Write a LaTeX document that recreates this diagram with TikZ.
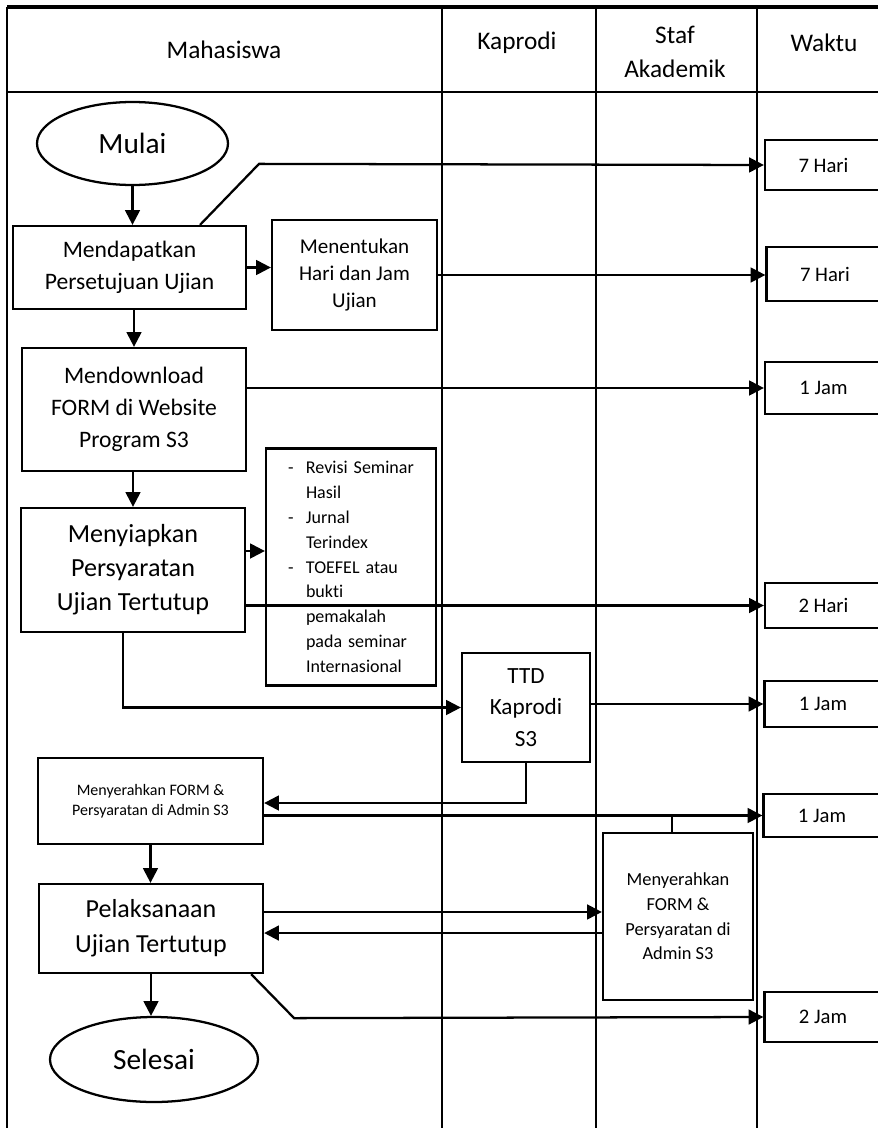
\documentclass[tikz,border=0pt]{standalone}
\usepackage{fontspec}
\setmainfont{Carlito}[Ligatures=NoCommon]
\usetikzlibrary{shapes.geometric, arrows.meta}

\newcommand{\fs}[2]{\fontsize{#1}{#2}\selectfont}
\newcommand{\lsdash}{\makebox[13.5pt][l]{-}}
\newcommand{\lsgap}{\hspace*{13.5pt}}

\begin{document}
\begin{tikzpicture}[
			x=0.75pt, y=-0.75pt,
			every node/.style={align=center, inner sep=0pt},
			block/.style={rectangle, draw, line width=1.7pt},
			terminal/.style={ellipse, draw, line width=1.7pt, font=\fs{22pt}{26pt}},
			waktu/.style={rectangle, draw, line width=1.7pt, minimum width=87.75pt, font=\fs{15.5pt}{19pt}},
			head/.style={font=\fs{19pt}{25.5pt}},
			line/.style={-{Triangle[length=11pt, width=11pt]}, line width=1.7pt},
			link/.style={line width=1.7pt}
			]
			
			\useasboundingbox (0,0) rectangle (878,1128);
			
			% swimlanes
			\draw[line width=2.4pt] (7,7) -- (895,7);
			\draw[link] (7,7) -- (7,1140);
			\draw[link] (7,92) -- (895,92);
			\foreach \x in {442,596,757}
				\draw[link] (\x,7) -- (\x,1140);
			
			\node[head] (hmhs) at (224,50) {Mahasiswa};
			\node[head] (hkap) at (517,43) {Kaprodi};
			\node[head] (hstaf) at (675,52) {Staf\\Akademik};
			\node[head] (hwkt) at (824,43) {Waktu};
			
			% mahasiswa
			\node[terminal, minimum width=143.25pt, minimum height=62.25pt] (mulai) at (132.5,143.5) {Mulai};
			\node[block, minimum width=174.75pt, minimum height=62.25pt, font=\fs{17.7pt}{24pt}] (setuju) at (129.5,267.5) {Mendapatkan\\Persetujuan Ujian};
			\node[block, minimum width=123.75pt, minimum height=82.5pt, font=\fs{15.8pt}{20.6pt}] (tentukan) at (354.5,275) {Menentukan\\Hari dan Jam\\Ujian};
			\node[block, minimum width=168pt, minimum height=92.25pt, font=\fs{17.7pt}{24pt}] (unduh) at (134,409.5) {Mendownload\\FORM di Website\\Program S3};
			\node[block, minimum width=168pt, minimum height=93pt, font=\fs{19.6pt}{25.5pt}] (siapkan) at (133,570) {Menyiapkan\\Persyaratan\\Ujian Tertutup};
			\node[block, minimum width=127.5pt, minimum height=177.75pt, text width=94.5pt, inner xsep=16.5pt, align=left, font=\fs{13.5pt}{18.6pt}] (syarat) at (351,567) {%
				\lsdash Revisi Seminar\\
				\lsgap Hasil\\
				\lsdash Jurnal\\
				\lsgap Terindex\\
				\lsdash \makebox[80pt][s]{TOEFEL atau}\\
				\lsgap bukti\\
				\lsgap pemakalah\\
				\lsgap \makebox[80pt][s]{pada seminar}\\
				\lsgap Internasional};
			\node[block, minimum width=168.75pt, minimum height=64.5pt, font=\fs{12pt}{15pt}] (serah) at (150.5,801) {Menyerahkan FORM \&\\Persyaratan di Admin S3};
			\node[block, minimum width=168pt, minimum height=66.75pt, font=\fs{19.5pt}{26pt}] (laksana) at (151,928.5) {Pelaksanaan\\Ujian Tertutup};
			\node[terminal, minimum width=156pt, minimum height=63.75pt] (selesai) at (154,1059.5) {Selesai};
			
			% kaprodi dan staf
			\node[block, minimum width=96pt, minimum height=81.75pt, font=\fs{17.4pt}{23.8pt}] (ttd) at (526,707.5) {TTD\\Kaprodi\\S3};
			\node[block, minimum width=112.5pt, minimum height=125.25pt, font=\fs{13.8pt}{18.5pt}] (admin) at (678,916.5) {Menyerahkan\\FORM \&\\Persyaratan di\\Admin S3};
			
			% waktu
			\node[waktu, minimum height=37.5pt] (w1) at (823.5,165) {7 Hari};
			\node[waktu, minimum height=40.5pt] (w2) at (825,274) {7 Hari};
			\node[waktu, minimum height=39pt] (w3) at (823.5,388) {1 Jam};
			\node[waktu, minimum height=33.75pt] (w4) at (823.5,605.5) {2 Hari};
			\node[waktu, minimum height=34.5pt] (w5) at (823,704) {1 Jam};
			\node[waktu, minimum height=32.25pt] (w6) at (822,815.5) {1 Jam};
			\node[waktu, minimum height=37.5pt] (w7) at (823,1017) {2 Jam};
			
			% alur
			\draw[line] (mulai) -- (mulai |- setuju.north);
			\draw[line] ([xshift=52.9pt]setuju.north) -- ++(59,-61) -- (w1.west);
			\draw[line] (setuju.east) -- (setuju.east -| tentukan.west);
			\draw[line] (tentukan.east) -- (tentukan.east -| w2.west);
			\draw[line] (unduh.north |- setuju.south) -- (unduh.north);
			\draw[line] (unduh.east |- w3.west) -- (w3.west);
			\draw[line] (siapkan.north |- unduh.south) -- (siapkan.north);
			\draw[line] ([yshift=14.25pt]siapkan.east) -- ([yshift=14.25pt]siapkan.east -| syarat.west);
			\draw[line] (siapkan.east |- w4.west) -- (w4.west);
			\draw[line] ([xshift=-7.5pt]siapkan.south) |- (ttd.west);
			\draw[line] (ttd.east |- w5.west) -- (w5.west);
			\draw[line] (ttd.south) |- ([yshift=-1.5pt]serah.east);
			\draw[line] (serah.east |- w6.west) -- (w6.west);
			\draw[link] ([xshift=-4.5pt]admin.north) -- ([xshift=-4.5pt]admin.north |- w6.west);
			\draw[line] (serah.south) -- (serah.south |- laksana.north);
			\draw[line] ([yshift=12.4pt]laksana.east) -- ([yshift=12.4pt]laksana.east -| admin.west);
			\draw[line] ([yshift=-12.4pt]admin.west) -- ([yshift=-12.4pt]admin.west -| laksana.east);
			\draw[line] (laksana.south) -- (laksana.south |- selesai.north);
			\draw[line] ([xshift=-9.75pt]laksana.south east) -- ++(43,44) -- (w7.west);
		\end{tikzpicture}
\end{document}
